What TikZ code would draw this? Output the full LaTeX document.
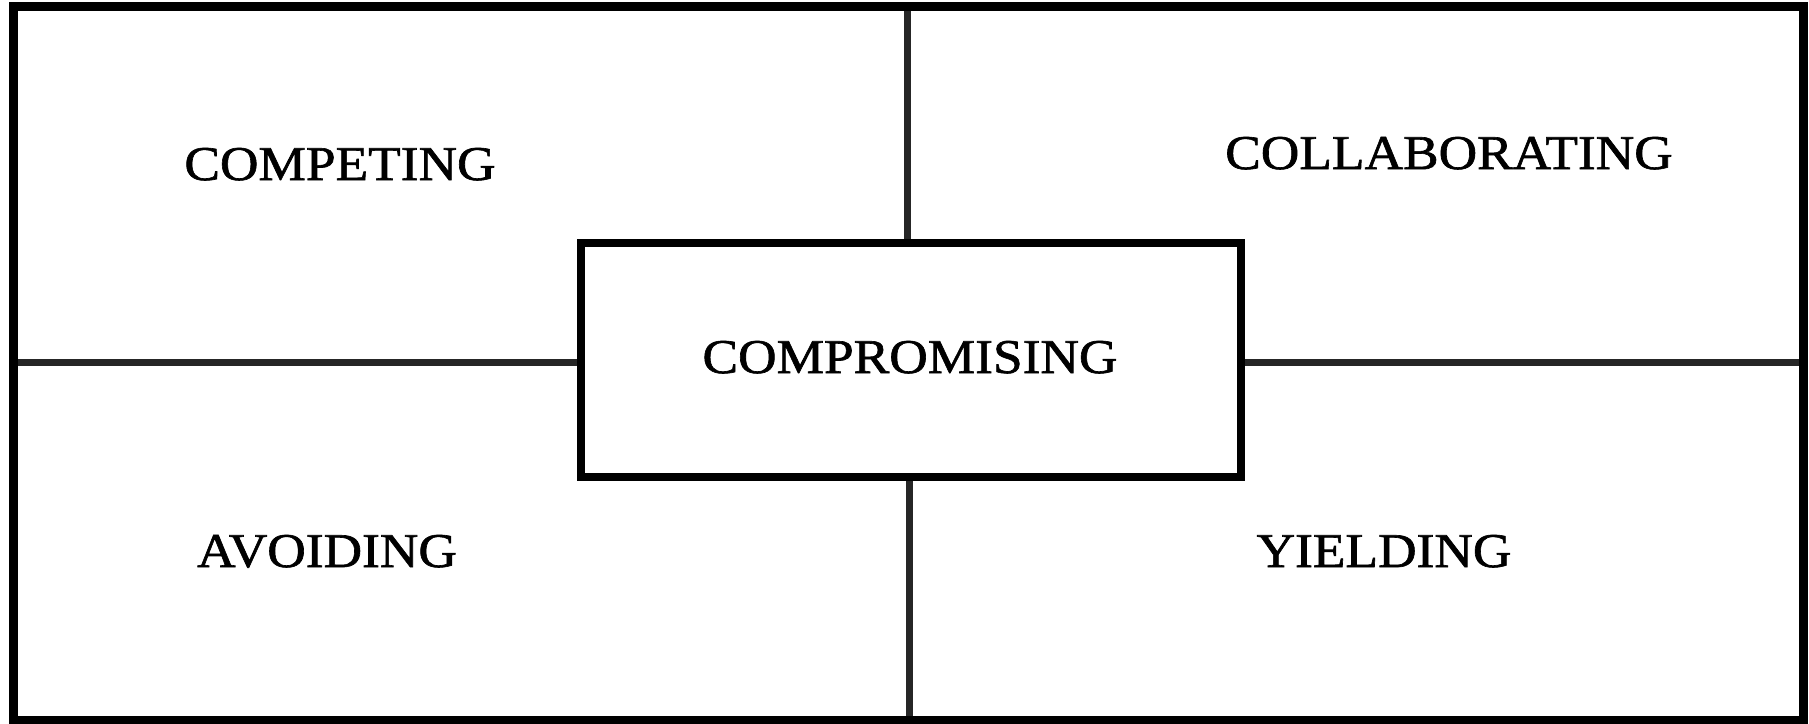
\documentclass[tikz,border=0pt]{standalone}
\usepackage{fontspec}
\setmainfont{Liberation Serif}[FakeStretch=1.1,FakeBold=1.3]
\begin{document}
\begin{tikzpicture}[x=1pt,y=-1pt,
  frame/.style={draw=black,line width=9pt},
  centerbox/.style={draw=black,line width=8pt,minimum width=660pt,minimum height=234pt,inner sep=0pt,fill=white},
  divider/.style={draw=black!85,line width=7pt},
  lbl/.style={anchor=base,inner sep=0pt,font=\fontsize{48.5}{58}\selectfont}]
\useasboundingbox (0,0) rectangle (1809,723);
\fill[white] (0,0) rectangle (1809,723);
% outer frame
\coordinate (tl) at (13,6);
\coordinate (br) at (1803,720);
% divider end points on the frame
\coordinate (topmid) at (907,6);
\coordinate (botmid) at (909,720);
\coordinate (leftmid) at (13,362);
\coordinate (rightmid) at (1803,362);
% center box
\node[centerbox] (comp) at (911,360) {};
\coordinate (compN) at (907,243);
\coordinate (compS) at (909,477);
\coordinate (compW) at (581,362);
\coordinate (compE) at (1241,362);
\draw[divider] (topmid) -- (compN);
\draw[divider] (compS) -- (botmid);
\draw[divider] (leftmid) -- (compW);
\draw[divider] (compE) -- (rightmid);
\node[centerbox] (comp2) at (911,360) {};
\draw[frame] (tl) rectangle (br);
% labels
\node[lbl] (competing) at (340,180) {COMPETING};
\node[lbl] (collab) at (1449,169) {COLLABORATING};
\node[lbl] (compromising) at (910,373) {COMPROMISING};
\node[lbl] (avoiding) at (327,567) {AVOIDING};
\node[lbl] (yielding) at (1384,567) {YIELDING};
\end{tikzpicture}
\end{document}
